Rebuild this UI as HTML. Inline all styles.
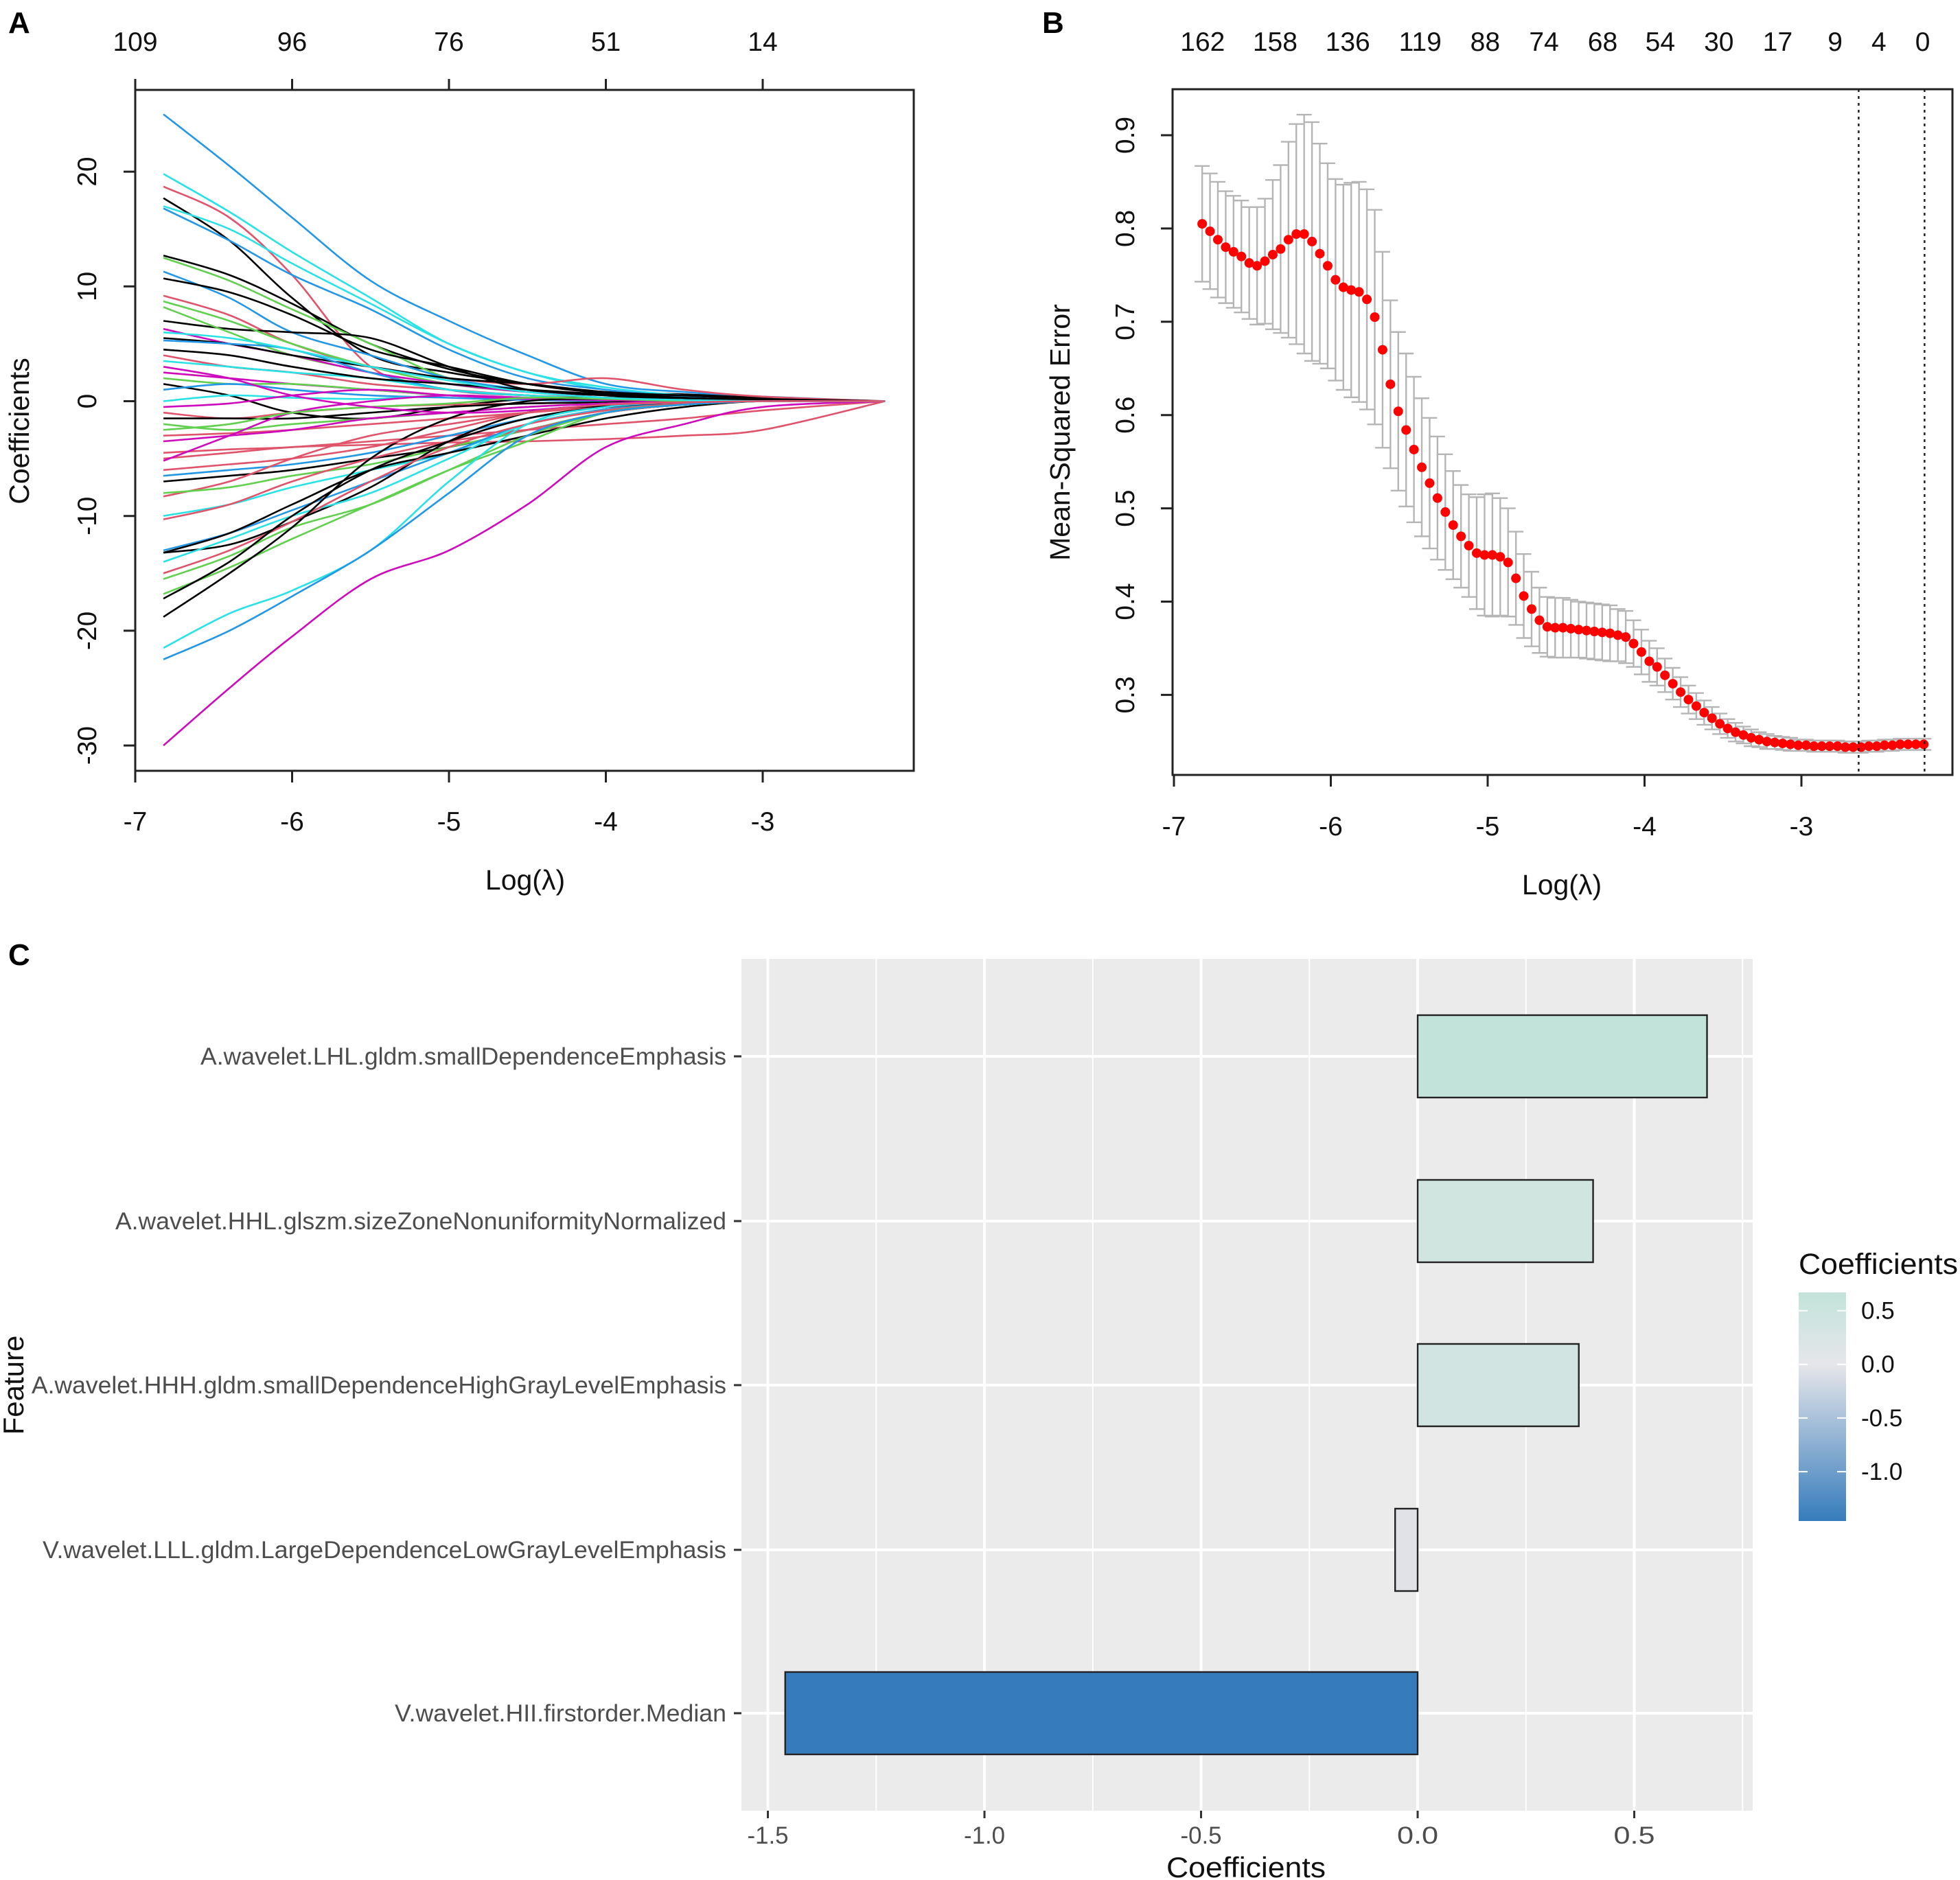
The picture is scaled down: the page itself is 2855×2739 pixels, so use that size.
<!DOCTYPE html>
<html><head><meta charset="utf-8"><style>
html,body{margin:0;padding:0;background:#fff;}
svg{display:block;font-family:"Liberation Sans",sans-serif;}
</style></head><body>
<svg id="fig" xmlns="http://www.w3.org/2000/svg" width="2855" height="2739" viewBox="0 0 2855 2739">
<rect x="0" y="0" width="2855" height="2739" fill="#fff"/>
<text x="12" y="48" font-size="44" font-weight="bold">A</text>
<text x="1518" y="48" font-size="44" font-weight="bold">B</text>
<text x="12" y="1406" font-size="44" font-weight="bold">C</text>
<g id="pa"></g>
<g id="pb"></g>
<g id="pc"></g>
</svg>
<script>
// ---------- Panel A data ----------
const aKnots = [-6.82,-6.4,-6.0,-5.5,-5.0,-4.5,-4.0,-3.5,-3.0,-2.22];
const aBottomTicks = [-7,-6,-5,-4,-3];
const aTopLabels = ["109","96","76","51","14"];
const aYTicks = [-30,-20,-10,0,10,20];
const aColors = ["#2297E6","#28E2E5","#DF536B","#000000","#28E2E5","#2297E6","#000000","#61D04F","#2297E6","#000000","#DF536B","#000000","#61D04F","#61D04F","#CD0BBC","#000000","#2297E6","#DF536B","#28E2E5","#CD0BBC","#61D04F","#000000","#2297E6","#28E2E5","#CD0BBC","#DF536B","#000000","#61D04F","#DF536B","#CD0BBC","#DF536B","#DF536B","#CD0BBC","#2297E6","#000000","#DF536B","#61D04F","#28E2E5","#DF536B","#2297E6","#000000","#000000","#28E2E5","#DF536B","#61D04F","#61D04F","#000000","#000000","#28E2E5","#2297E6","#CD0BBC","#000000","#61D04F","#CD0BBC","#28E2E5","#DF536B"];
const aPaths = [
[25,20.5,16,10.5,7,4,1.5,0.8,0.4,0],
[19.8,16.5,13,9,5,2.5,1,0.5,0.2,0],
[18.7,16,11,3,1,0.5,0.3,0.2,0.1,0],
[17.7,14,9,4,2.5,1.5,0.8,0.6,0.3,0],
[17,15,12,8.5,5,2.5,1.2,0.5,0.2,0],
[16.8,14,11,8,4.5,2,1,0.4,0.2,0],
[12.7,11,8.5,5,2.8,1.5,0.7,0.3,0.1,0],
[12.5,10.5,8,5,2,1,0.5,0.2,0.1,0],
[11.3,9,6,4,2,1,0.5,0.2,0.1,0],
[10.7,9.5,7.5,4.5,3,1.5,0.7,0.5,0.2,0],
[9.2,7.5,5,3,2,1.5,2,1,0.4,0],
[7,6.3,6,5.5,3,1,0.5,0.2,0.1,0],
[8.7,7,5,3,1.5,0.8,0.3,0.1,0,0],
[8.2,6,4,2.5,1,0.5,0.2,0.1,0,0],
[6.3,5,4,2.5,1.5,0.8,0.3,0.1,0,0],
[5.5,5,4,3,2,1.5,0.8,0.5,0.2,0],
[5.3,5,4.5,2.5,1,0.5,0.2,0.1,0,0],
[4,3,2.5,1.5,1,0.5,0.2,0.1,0,0],
[3.5,3,2.5,2,1,0.5,0.2,0.1,0,0],
[2.5,2,1.5,1,0.5,0.3,0.1,0,0,0],
[2,1.5,1.5,1,0.5,0.2,0.1,0,0,0],
[1.5,0.5,-1,-1.5,-0.5,0.2,0.3,0.1,0,0],
[1,1.5,1,0.5,0.3,0.1,0,0,0,0],
[0,0.5,0.3,0.2,0.5,0.3,0.1,0,0,0],
[-0.5,-0.2,0.5,1,0.5,0.2,0.1,0,0,0],
[-1,-1.5,-1,-0.5,-0.3,-0.2,-0.1,0,0,0],
[-1.5,-1.5,-1.5,-1,-0.5,-0.2,-0.1,0,0,0],
[-2,-2.5,-2,-1.5,-1,-0.5,-0.2,-0.1,0,0],
[-3,-2.8,-2.5,-2,-1.5,-1,-0.5,-0.2,0,0],
[-3.5,-3,-2.5,-1.5,-1,-0.5,-0.2,0,0,0],
[-5,-4.5,-4,-3.8,-3.6,-3.5,-3.3,-3,-2.5,0],
[-4.5,-4.2,-4,-3.5,-3,-2.5,-2,-1.5,-0.8,0],
[-5.2,-3,-1,0,0.5,0.3,0.1,0,0,0],
[-6.5,-6,-5.5,-4.5,-3,-1.5,-0.5,-0.2,0,0],
[-7,-6.5,-6,-5,-4,-2.5,-1,-0.3,0,0],
[-8.3,-7,-5,-3,-2,-1,-0.5,-0.2,0,0],
[-8,-7.5,-6.5,-5.5,-4,-2.5,-1,-0.3,0,0],
[-10,-9,-7.5,-6,-4.5,-2,-0.8,-0.2,0,0],
[-10.3,-9,-7,-5,-3.5,-2.5,-1,-0.3,0,0],
[-13,-11.5,-9.5,-7,-4.5,-2,-0.7,-0.2,0,0],
[-13.2,-12.5,-10.5,-7.5,-3.5,-1,-0.4,-0.1,0,0],
[-13.2,-11.5,-9,-6,-4.5,-3,-1.5,-0.5,0,0],
[-14,-12,-10,-8,-5,-2,-0.8,-0.3,0,0],
[-15,-13,-10.5,-7,-4,-2,-0.8,-0.2,0,0],
[-15.5,-13.5,-11,-9,-6,-3,-1,-0.3,0,0],
[-16.8,-14.5,-12,-9,-6,-3.5,-1,-0.3,0,0],
[-17.2,-14,-10,-6,-3.5,-1.5,-0.5,-0.1,0,0],
[-18.8,-15,-11,-5,-1.5,0,0.2,0.1,0,0],
[-21.5,-18.5,-16.5,-13,-7,-2,-0.5,-0.1,0,0],
[-22.5,-20,-17,-13,-8,-3,-1,-0.3,0,0],
[-30,-25,-20.5,-15.5,-13,-9,-4,-2,-0.5,0],
[4.5,4,3,2,1.5,1,0.6,0.3,0.1,0],
[-2.5,-2,-1,-0.5,-0.2,0.3,0.2,0,0,0],
[3,2,0.5,-0.5,-1,-0.8,-0.3,-0.1,0,0],
[6,5.5,4.5,3,1.8,0.8,0.3,0.1,0,0],
[-6,-5.5,-5,-4,-2.5,-1,-0.3,-0.1,0,0]
];
// ---------- Panel B data ----------
const bLambda = [-6.82,-6.77,-6.72,-6.67,-6.62,-6.57,-6.52,-6.47,-6.42,-6.37,-6.32,-6.27,-6.22,-6.17,-6.12,-6.07,-6.02,-5.97,-5.92,-5.87,-5.82,-5.77,-5.72,-5.67,-5.62,-5.57,-5.52,-5.47,-5.42,-5.37,-5.32,-5.27,-5.22,-5.17,-5.12,-5.07,-5.02,-4.97,-4.92,-4.87,-4.82,-4.77,-4.72,-4.67,-4.62,-4.57,-4.52,-4.47,-4.42,-4.37,-4.32,-4.27,-4.22,-4.17,-4.12,-4.07,-4.02,-3.97,-3.92,-3.87,-3.82,-3.77,-3.72,-3.67,-3.62,-3.57,-3.52,-3.47,-3.42,-3.37,-3.32,-3.27,-3.22,-3.17,-3.12,-3.07,-3.02,-2.97,-2.92,-2.87,-2.82,-2.77,-2.72,-2.67,-2.62,-2.57,-2.52,-2.47,-2.42,-2.37,-2.32,-2.27,-2.22];
const bMse = [0.805,0.797,0.788,0.780,0.775,0.770,0.763,0.760,0.765,0.772,0.778,0.788,0.794,0.794,0.786,0.773,0.760,0.745,0.737,0.734,0.732,0.724,0.705,0.670,0.633,0.604,0.584,0.563,0.544,0.527,0.511,0.496,0.482,0.470,0.460,0.452,0.450,0.450,0.448,0.442,0.425,0.406,0.392,0.380,0.373,0.372,0.372,0.371,0.370,0.369,0.368,0.367,0.366,0.364,0.362,0.355,0.346,0.336,0.330,0.321,0.312,0.303,0.295,0.288,0.281,0.275,0.269,0.264,0.260,0.257,0.254,0.252,0.250,0.249,0.248,0.247,0.246,0.246,0.245,0.245,0.245,0.245,0.244,0.244,0.244,0.245,0.245,0.246,0.246,0.247,0.247,0.247,0.247];
const bSe = [0.062,0.062,0.062,0.060,0.060,0.060,0.060,0.063,0.067,0.080,0.090,0.105,0.118,0.128,0.128,0.118,0.110,0.108,0.110,0.115,0.118,0.118,0.115,0.105,0.090,0.085,0.082,0.078,0.074,0.070,0.066,0.062,0.058,0.055,0.055,0.060,0.065,0.066,0.063,0.058,0.050,0.045,0.040,0.035,0.032,0.032,0.032,0.031,0.030,0.030,0.030,0.030,0.030,0.028,0.028,0.025,0.024,0.022,0.020,0.018,0.017,0.016,0.015,0.014,0.013,0.012,0.011,0.010,0.010,0.009,0.009,0.008,0.008,0.007,0.007,0.007,0.006,0.006,0.006,0.006,0.006,0.006,0.006,0.006,0.006,0.006,0.006,0.006,0.006,0.006,0.006,0.006,0.006];
const bBottomTicks = [-7,-6,-5,-4,-3];
const bYTicks = [0.3,0.4,0.5,0.6,0.7,0.8,0.9];
const bTopLabels = ["162","158","136","119","88","74","68","54","30","17","9","4","0"];
const bTopLambda = [-6.817,-6.355,-5.892,-5.43,-5.016,-4.641,-4.267,-3.90,-3.526,-3.151,-2.785,-2.506,-2.227];
const bVlines = [-2.635,-2.215];
// ---------- Panel C data ----------
const cFeatures = ["A.wavelet.LHL.gldm.smallDependenceEmphasis","A.wavelet.HHL.glszm.sizeZoneNonuniformityNormalized","A.wavelet.HHH.gldm.smallDependenceHighGrayLevelEmphasis","V.wavelet.LLL.gldm.LargeDependenceLowGrayLevelEmphasis","V.wavelet.HII.firstorder.Median"];
const cValues = [0.668,0.405,0.372,-0.052,-1.46];
const cXTicks = [-1.5,-1.0,-0.5,0.0,0.5];
const cXTickLabels = ["-1.5","-1.0","-0.5","0.0","0.5"];
const cLegendTicks = [0.5,0.0,-0.5,-1.0];
const cLegendLabels = ["0.5","0.0","-0.5","-1.0"];

const NS = "http://www.w3.org/2000/svg";
function mk(parent, tag, attrs, text){
  const e = document.createElementNS(NS, tag);
  for (const k in attrs) e.setAttribute(k, attrs[k]);
  if (text !== undefined) e.textContent = text;
  parent.appendChild(e);
  return e;
}
function smooth(pts){
  let d = 'M'+pts[0][0].toFixed(1)+','+pts[0][1].toFixed(1);
  for (let i=0;i<pts.length-1;i++){
    const p0=pts[Math.max(0,i-1)], p1=pts[i], p2=pts[i+1], p3=pts[Math.min(pts.length-1,i+2)];
    const c1=[p1[0]+(p2[0]-p0[0])/6, p1[1]+(p2[1]-p0[1])/6];
    const c2=[p2[0]-(p3[0]-p1[0])/6, p2[1]-(p3[1]-p1[1])/6];
    d+=' C'+c1[0].toFixed(1)+','+c1[1].toFixed(1)+' '+c2[0].toFixed(1)+','+c2[1].toFixed(1)+' '+p2[0].toFixed(1)+','+p2[1].toFixed(1);
  }
  return d;
}

// ---------- Panel A ----------
(function(){
  const g = document.getElementById('pa');
  const X = v => 197 + (v + 7) * 228.5;
  const Y = v => 584.5 - v * 16.72;
  aPaths.forEach((vals,i)=>{
    const d = smooth(vals.map((v,j)=>[X(aKnots[j]),Y(v)]));
    const p = mk(g,'path',{d:d,fill:'none',stroke:aColors[i%aColors.length],'stroke-width':2.6,'stroke-linejoin':'round'});
    
    
  });
  const box = mk(g,'rect',{x:197,y:131,width:1134,height:992,fill:'none',stroke:'#222','stroke-width':3});
  
  
  aBottomTicks.forEach((t,i)=>{
    const l = mk(g,'line',{x1:X(t),x2:X(t),y1:1123,y2:1140,stroke:'#222','stroke-width':3});
    
    
    const tx = mk(g,'text',{x:X(t),y:1210,'font-size':39,'text-anchor':'middle',fill:'#111'},String(t));
    
    
    const l2 = mk(g,'line',{x1:X(t),x2:X(t),y1:131,y2:115,stroke:'#222','stroke-width':3});
    
    
    const t2 = mk(g,'text',{x:X(t),y:74,'font-size':39,'text-anchor':'middle',fill:'#111'},aTopLabels[i]);
    
    
  });
  aYTicks.forEach(t=>{
    const l = mk(g,'line',{x1:197,x2:180,y1:Y(t),y2:Y(t),stroke:'#222','stroke-width':3});
    
    
    const tx = mk(g,'text',{x:140,y:Y(t),'font-size':39,'text-anchor':'middle',fill:'#111',transform:'rotate(-90 140 '+Y(t)+')'},String(t));
    
    
  });
  const xt = mk(g,'text',{x:765,y:1296,'font-size':41,'text-anchor':'middle',fill:'#111'},'Log(λ)');
  
  
  const yt = mk(g,'text',{x:42,y:628,'font-size':41,'text-anchor':'middle',fill:'#111',transform:'rotate(-90 42 628)'},'Coefficients');
  
  
})();

// ---------- Panel B ----------
(function(){
  const g = document.getElementById('pb');
  const X = v => 1710 + (v + 7) * 228.5;
  const Y = v => 197 + (0.9 - v) * 1359;
  const box = mk(g,'rect',{x:1708,y:130,width:1136,height:999,fill:'none',stroke:'#222','stroke-width':3});
  
  
  bLambda.forEach((lam,i)=>{
    const x = X(lam), up = Y(bMse[i]+bSe[i]), lo = Y(bMse[i]-bSe[i]);
    const e = mk(g,'path',{d:`M${x},${up} L${x},${lo} M${x-11},${up} L${x+11},${up} M${x-11},${lo} L${x+11},${lo}`,stroke:'#b5b5b5','stroke-width':2.4,fill:'none'});
    
    
  });
  bLambda.forEach((lam,i)=>{
    const c = mk(g,'circle',{cx:X(lam),cy:Y(bMse[i]),r:7,fill:'#ff0000'});
    
    
  });
  bVlines.forEach(v=>{
    const l = mk(g,'line',{x1:X(v),x2:X(v),y1:130,y2:1129,stroke:'#222','stroke-width':2.5,'stroke-dasharray':'4 6'});
    
    
  });
  bBottomTicks.forEach(t=>{
    const l = mk(g,'line',{x1:X(t),x2:X(t),y1:1129,y2:1146,stroke:'#222','stroke-width':3});
    
    
    const tx = mk(g,'text',{x:X(t),y:1217,'font-size':39,'text-anchor':'middle',fill:'#111'},String(t));
    
    
  });
  bYTicks.forEach(t=>{
    const l = mk(g,'line',{x1:1708,x2:1691,y1:Y(t),y2:Y(t),stroke:'#222','stroke-width':3});
    
    
    const tx = mk(g,'text',{x:1652,y:Y(t),'font-size':39,'text-anchor':'middle',fill:'#111',transform:'rotate(-90 1652 '+Y(t)+')'},t.toFixed(1));
    
    
  });
  bTopLabels.forEach((s,i)=>{
    const tx = mk(g,'text',{x:X(bTopLambda[i]),y:74,'font-size':39,'text-anchor':'middle',fill:'#111'},s);
    
    
  });
  const xt = mk(g,'text',{x:2275,y:1303,'font-size':41,'text-anchor':'middle',fill:'#111'},'Log(λ)');
  
  
  const yt = mk(g,'text',{x:1558,y:630,'font-size':41,'text-anchor':'middle',fill:'#111',transform:'rotate(-90 1558 630)'},'Mean-Squared Error');
  
  
})();

// ---------- Panel C ----------
(function(){
  const g = document.getElementById('pc');
  const X = v => 2065 + v * 631;
  const rowY = [1539,1779,2018,2258,2496];
  const labelW = [766,890,1012,996,483];
  const bg = mk(g,'rect',{x:1080,y:1397,width:1473,height:1241,fill:'#ebebeb'});
  
  
  [-1.25,-0.75,-0.25,0.25,0.75].forEach(v=>{
    const l = mk(g,'line',{x1:X(v),x2:X(v),y1:1397,y2:2638,stroke:'#fff','stroke-width':2});
    
    
  });
  cXTicks.forEach(v=>{
    const l = mk(g,'line',{x1:X(v),x2:X(v),y1:1397,y2:2638,stroke:'#fff','stroke-width':4});
    
    
  });
  rowY.forEach(y=>{
    const l = mk(g,'line',{x1:1080,x2:2553,y1:y,y2:y,stroke:'#fff','stroke-width':4});
    
    
  });
  function col(v){
    let a,b,t;
    if (v < 0){ a=[230,230,234]; b=[54,124,188]; t=Math.min(1,-v/1.46); }
    else { a=[230,230,234]; b=[194,227,218]; t=Math.min(1,v/0.67); }
    return 'rgb('+a.map((c,i)=>Math.round(c+(b[i]-c)*t)).join(',')+')';
  }
  cValues.forEach((v,i)=>{
    const x0 = Math.min(X(0),X(v)), w = Math.abs(X(v)-X(0));
    const r = mk(g,'rect',{x:x0,y:rowY[i]-60,width:w,height:120,fill:col(v),stroke:'#222','stroke-width':2.4});
    
    
    const t = mk(g,'line',{x1:1069,x2:1080,y1:rowY[i],y2:rowY[i],stroke:'#333','stroke-width':3});
    
    
    const tx = mk(g,'text',{x:1058,y:rowY[i]+12,'font-size':35,'text-anchor':'end',fill:'#4d4d4d',textLength:labelW[i],lengthAdjust:'spacingAndGlyphs'},cFeatures[i]);
    
    
  });
  cXTicks.forEach((v,i)=>{
    const t = mk(g,'line',{x1:X(v),x2:X(v),y1:2638,y2:2649,stroke:'#333','stroke-width':3});
    
    
    const tx = mk(g,'text',{x:X(v),y:2686,'font-size':35,'text-anchor':'middle',fill:'#4d4d4d',textLength:60,lengthAdjust:'spacingAndGlyphs'},cXTickLabels[i]);
    
    
  });
  const xt = mk(g,'text',{x:1815,y:2735,'font-size':42,'text-anchor':'middle',fill:'#111',textLength:232,lengthAdjust:'spacingAndGlyphs'},'Coefficients');
  
  
  const yt = mk(g,'text',{x:34,y:2018,'font-size':42,'text-anchor':'middle',fill:'#111',transform:'rotate(-90 34 2018)'},'Feature');
  
  
  const defs = mk(g,'defs',{});
  const lg = mk(defs,'linearGradient',{id:'cbar',x1:0,y1:0,x2:0,y2:1});
  mk(lg,'stop',{offset:'0','stop-color':col(0.67)});
  mk(lg,'stop',{offset:String(0.67/2.13),'stop-color':col(0)});
  mk(lg,'stop',{offset:'1','stop-color':col(-1.46)});
  const LY = v => 1883 + (0.67 - v) * (333/2.13);
  const lt = mk(g,'text',{x:2620,y:1856,'font-size':43,fill:'#111',textLength:232,lengthAdjust:'spacingAndGlyphs'},'Coefficients');
  
  
  const cb = mk(g,'rect',{x:2620,y:1883,width:69,height:333,fill:'url(#cbar)'});
  
  
  cLegendTicks.forEach((v,i)=>{
    const t = mk(g,'path',{d:`M2620,${LY(v)} L2633,${LY(v)} M2676,${LY(v)} L2689,${LY(v)}`,stroke:'#fff','stroke-width':2});
    
    
    const tx = mk(g,'text',{x:2711,y:LY(v)+12,'font-size':35,fill:'#111'},cLegendLabels[i]);
    
    
  });
})();
</script>
</body></html>
